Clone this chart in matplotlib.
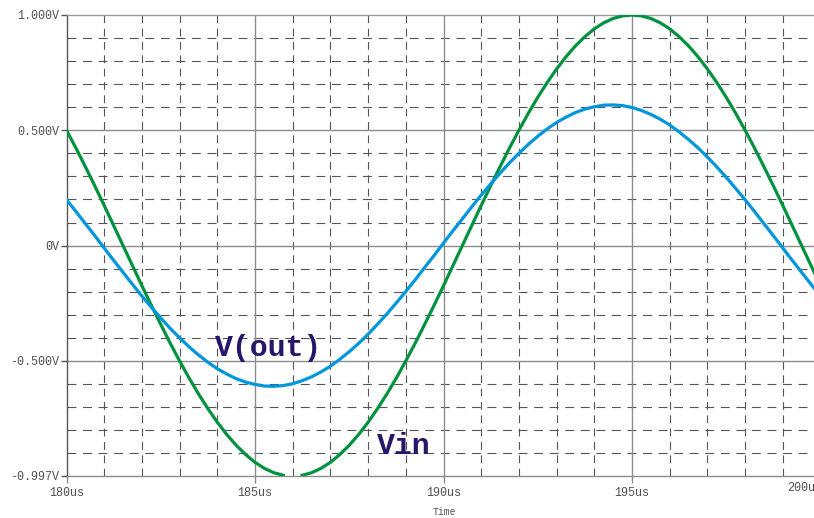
import numpy as np
import matplotlib
matplotlib.use("Agg")
import matplotlib.pyplot as plt

# Transient simulation samples, 180us .. 200us every 0.25us
time_us = np.linspace(180.0, 200.0, 81)

v_in = [
    0.500, 0.423, 0.342, 0.259, 0.174, 0.087, 0.000, -0.087, -0.174, -0.259,
    -0.342, -0.423, -0.500, -0.574, -0.643, -0.707, -0.766, -0.819, -0.866, -0.906,
    -0.940, -0.966, -0.985, -0.996, -1.000, -0.996, -0.985, -0.966, -0.940, -0.906,
    -0.866, -0.819, -0.766, -0.707, -0.643, -0.574, -0.500, -0.423, -0.342, -0.259,
    -0.174, -0.087, 0.000, 0.087, 0.174, 0.259, 0.342, 0.423, 0.500, 0.574,
    0.643, 0.707, 0.766, 0.819, 0.866, 0.906, 0.940, 0.966, 0.985, 0.996,
    1.000, 0.996, 0.985, 0.966, 0.940, 0.906, 0.866, 0.819, 0.766, 0.707,
    0.643, 0.574, 0.500, 0.423, 0.342, 0.259, 0.174, 0.087, 0.000, -0.087,
    -0.174,
]

v_out = [
    0.199, 0.148, 0.095, 0.043, -0.011, -0.064, -0.116, -0.168, -0.219, -0.267,
    -0.314, -0.359, -0.400, -0.439, -0.474, -0.506, -0.534, -0.557, -0.577, -0.592,
    -0.602, -0.609, -0.610, -0.607, -0.599, -0.586, -0.569, -0.548, -0.523, -0.493,
    -0.460, -0.424, -0.384, -0.341, -0.296, -0.248, -0.199, -0.148, -0.095, -0.043,
    0.011, 0.064, 0.116, 0.168, 0.219, 0.267, 0.314, 0.359, 0.400, 0.439,
    0.474, 0.506, 0.534, 0.557, 0.577, 0.592, 0.602, 0.609, 0.610, 0.607,
    0.599, 0.586, 0.569, 0.548, 0.523, 0.493, 0.460, 0.424, 0.384, 0.341,
    0.296, 0.248, 0.199, 0.148, 0.095, 0.043, -0.011, -0.064, -0.116, -0.168,
    -0.219,
]

y_min, y_max = -0.997, 1.0
y_ticks = [1.0, 0.5, 0.0, -0.5, -0.997]
y_tick_labels = ["1.000V", "0.500V", "0V", "-0.500V", "-0.997V"]
x_ticks = [180, 185, 190, 195]
x_tick_labels = ["180us", "185us", "190us", "195us"]
last_x_label = "200us"

W, H = 814, 518
fig = plt.figure(figsize=(W / 100, H / 100), dpi=100)
left_px, right_px, top_px, bottom_px = 66.5, 814, 15, 475.5
ax = fig.add_axes([left_px / W, 1 - bottom_px / H,
                   (right_px - left_px) / W, (bottom_px - top_px) / H])

px_per_us = 37.7
ax.set_xlim(180, 180 + (right_px - left_px) / px_per_us)
ax.set_ylim(y_min, y_max)

mono = "Liberation Mono"
grid_dark = "#555555"
grid_solid = "#8c8c8c"

# dashed minor grid
for t in np.arange(181, 200, 1):
    if t % 5:
        ax.axvline(t, color=grid_dark, lw=0.8, ls=(0, (7, 5)), zorder=1)
for v in np.arange(-0.9, 1.0, 0.1):
    if abs(round(v * 10)) % 5:
        ax.axhline(v, color=grid_dark, lw=0.8, ls=(0, (8, 6)), zorder=1)
# solid major grid
for t in [185, 190, 195]:
    ax.axvline(t, color=grid_solid, lw=1.0, zorder=1)
for v in [0.5, 0.0, -0.5]:
    ax.axhline(v, color=grid_solid, lw=1.0, zorder=1)

ax.spines["right"].set_visible(False)
ax.spines["top"].set_color("#9a9a9a")
ax.spines["left"].set_color("#555555")
ax.spines["bottom"].set_color("#8c8c8c")
for s in ["top", "left", "bottom"]:
    ax.spines[s].set_linewidth(1.0)

# samples outside the displayed range are not drawn
v_in_shown = np.ma.masked_outside(np.array(v_in), y_min, y_max)
v_out_shown = np.ma.masked_outside(np.array(v_out), y_min, y_max)
ax.plot(time_us, v_in_shown, color="#00923f", lw=2.3, zorder=3)
ax.plot(time_us, v_out_shown, color="#0096dc", lw=2.3, zorder=3)

ax.set_yticks(y_ticks)
ax.set_yticklabels(y_tick_labels, fontfamily=mono, fontsize=8.5, color="#505050")
ax.set_xticks(x_ticks)
ax.set_xticklabels(x_tick_labels, fontfamily=mono, fontsize=8.5, color="#505050")
ax.tick_params(axis="y", length=4, width=1, color="#555555", pad=1)
ax.tick_params(axis="x", length=5, width=1, color="#8c8c8c", pad=3)

fig.text(787 / W, 1 - 488 / H, last_x_label, ha="left", va="center",
         fontfamily=mono, fontsize=8.5, color="#505050")
fig.text(444 / W, 1 - 512 / H, "Time", ha="center", va="center",
         fontfamily=mono, fontsize=7, color="#505050")

ax.text(185.35, -0.446, "V(out)", ha="center", va="center",
        fontfamily=mono, fontsize=21.5, fontweight="bold",
        color="#27166a", zorder=4)
ax.text(188.95, -0.87, "Vin", ha="center", va="center",
        fontfamily=mono, fontsize=21.5, fontweight="bold",
        color="#27166a", zorder=4)

fig.savefig("out.png", dpi=100)
